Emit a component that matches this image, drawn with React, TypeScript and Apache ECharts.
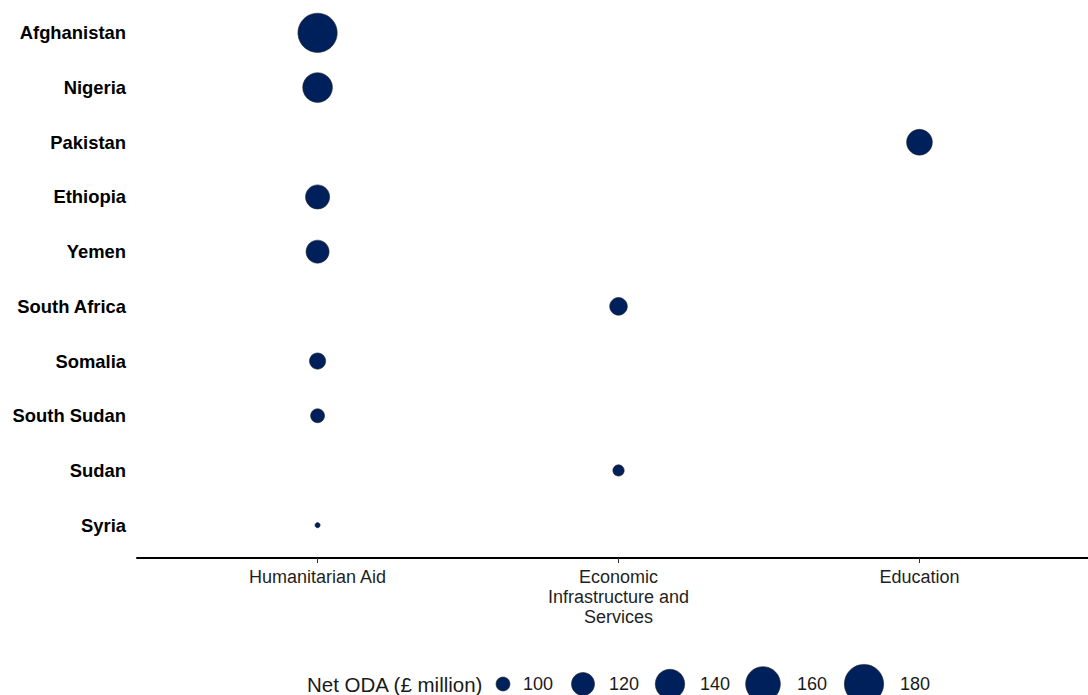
import React, { useEffect, useRef } from "react";
import * as echarts from "echarts";

const countries = [
  "Afghanistan",
  "Nigeria",
  "Pakistan",
  "Ethiopia",
  "Yemen",
  "South Africa",
  "Somalia",
  "South Sudan",
  "Sudan",
  "Syria",
];
const sectors = ["Humanitarian Aid", "Economic\nInfrastructure and\nServices", "Education"];
// sector index of each country's point
const countrySector = [0, 0, 2, 0, 0, 1, 0, 0, 1, 0];
// Net ODA (£ million)
const netOda = [180, 141, 128, 123, 120, 107, 104, 100, 96, 90];
const legendValues = [100, 120, 140, 160, 180];
const legendTitle = "Net ODA (£ million)";

const FONT = "'Liberation Sans', Arial, sans-serif";
const NAVY = "#00205c";

// bubble diameter: area grows linearly with value
const sizeOf = (v: number) => Math.sqrt(Math.max(0, 16.8 * (v - 88.4)));

export default function App() {
  const ref = useRef<HTMLDivElement>(null);

  useEffect(() => {
    if (!ref.current) return;
    const chart = echarts.init(ref.current, undefined, { renderer: "svg" });

    const data = countries.map((c, i) => [countrySector[i], i, netOda[i], c]);

    // legend layout
    const legendY = 684;
    const legendCircleX = [503, 583, 670, 763, 864];
    const legendTextX = [523, 609, 700, 797, 900];
    const legendEls: any[] = [
      {
        type: "text",
        x: 307,
        y: legendY,
        style: {
          text: legendTitle,
          font: `20.5px ${FONT}`,
          fill: "#1a1a1a",
          verticalAlign: "middle",
          align: "left",
        },
      },
    ];
    legendValues.forEach((v, i) => {
      legendEls.push({
        type: "circle",
        shape: { cx: legendCircleX[i], cy: legendY, r: sizeOf(v) / 2 },
        style: { fill: NAVY, stroke: "#222", lineWidth: 0.6 },
      });
      legendEls.push({
        type: "text",
        x: legendTextX[i],
        y: legendY,
        style: {
          text: String(v),
          font: `18px ${FONT}`,
          fill: "#1a1a1a",
          verticalAlign: "middle",
          align: "left",
        },
      });
    });

    chart.setOption({
      animation: false,
      backgroundColor: "#ffffff",
      grid: { left: 137, right: 0, top: -1, height: 559, containLabel: false },
      xAxis: {
        type: "value",
        position: "bottom",
        min: -0.6,
        max: 2.56,
        splitLine: { show: false },
        axisLine: { show: true, onZero: false, lineStyle: { color: "#000", width: 2 } },
        axisTick: {
          show: true,
          customValues: [0, 1, 2],
          length: 5,
          lineStyle: { color: "#333", width: 1 },
        },
        axisLabel: {
          customValues: [0, 1, 2],
          formatter: (v: number) => sectors[Math.round(v)] ?? "",
          color: "#1f1f1f",
          fontFamily: FONT,
          fontSize: 18,
          lineHeight: 20,
          margin: 9,
          align: "center",
        },
      },
      yAxis: {
        type: "value",
        inverse: true,
        min: -0.6,
        max: 9.6,
        splitLine: { show: false },
        axisLine: { show: false },
        axisTick: { show: false },
        axisLabel: {
          customValues: countries.map((_, i) => i),
          formatter: (v: number) => countries[Math.round(v)] ?? "",
          color: "#000",
          fontFamily: FONT,
          fontSize: 18.4,
          fontWeight: "bold",
          margin: 11,
        },
      },
      series: [
        {
          type: "scatter",
          data,
          symbol: "circle",
          symbolSize: (val: number[]) => sizeOf(val[2]),
          itemStyle: { color: NAVY, borderColor: "#222", borderWidth: 0.6, opacity: 1 },
          emphasis: { disabled: true },
        },
      ],
      graphic: legendEls,
    });

    return () => chart.dispose();
  }, []);

  return (
    <div
      ref={ref}
      style={{ position: "absolute", left: 0, top: 0, width: 1088, height: 695 }}
    />
  );
}
